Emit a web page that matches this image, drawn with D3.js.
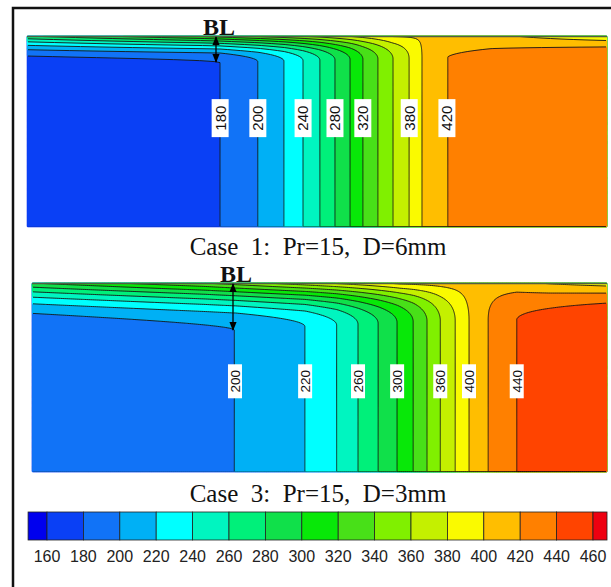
<!DOCTYPE html>
<html>
<head>
<meta charset="utf-8">
<script src="https://cdn.jsdelivr.net/npm/d3@7"></script>
<style>
body { margin: 0; background: #fff; }
svg { display: block; }
</style>
</head>
<body>
<script>
// colour bar: band edges and band colours (one more colour than edges)
const ticks = [160, 180, 200, 220, 240, 260, 280, 300, 320, 340, 360, 380, 400, 420, 440, 460]
const colors = ["#0000ee", "#0a40f5", "#1173f7", "#00b0f5", "#00ffff", "#00f5c0", "#00f07a", "#10e04a",
    "#08e808", "#48e018", "#80f000", "#c4f000", "#fafa00", "#ffbe00", "#ff8000", "#ff4400", "#ee0010"]

// case 1 - temperature in the core (x = fraction of the plot width)
const case1BulkX = [0, 0.333, 0.398, 0.443, 0.476, 0.505, 0.531, 0.557, 0.579, 0.605, 0.631, 0.659, 0.681, 0.724, 1]
const case1BulkT = [170, 180, 200, 220, 240, 260, 280, 300, 320, 340, 360, 380, 400, 420, 432]
// temperature at the top wall and boundary layer thickness (fraction of height)
const case1WallX = [0, 0.3, 0.5, 0.63, 0.8, 1]
const case1WallT = [280, 325, 368, 402, 405, 380]
const case1BLX = [0, 0.33, 0.6, 1]
const case1BL = [0.15, 0.14, 0.12, 0.11]
const case1Labels = [180, 200, 240, 280, 320, 380, 420]

// case 3
const case3BulkX = [0, 0.353, 0.475, 0.530, 0.567, 0.602, 0.635, 0.663, 0.687, 0.710, 0.736, 0.760, 0.793, 0.843, 1]
const case3BulkT = [190, 200, 220, 240, 260, 280, 300, 320, 340, 360, 380, 400, 420, 440, 452]
const case3WallX = [0, 0.3, 0.5, 0.64, 0.78, 0.9, 1]
const case3WallT = [300, 340, 378, 405, 412, 398, 390]
const case3BLX = [0, 0.35, 0.7, 1]
const case3BL = [0.23, 0.25, 0.2, 0.19]
const case3Labels = [200, 220, 260, 300, 360, 400, 440]

const panels = [
    { id: "c1", x0: 27, x1: 607, y0: 36, y1: 227, bulkX: case1BulkX, bulkT: case1BulkT, wallX: case1WallX, wallT: case1WallT,
      blX: case1BLX, bl: case1BL, labels: case1Labels, labelY: 0.43, lw: 17, lh: 38, fs: 15,
      title: "Case  1:  Pr=15,  D=6mm", titleY: 255, blText: 216, blArrow: [37, 62] },
    { id: "c3", x0: 32, x1: 607, y0: 283, y1: 472, bulkX: case3BulkX, bulkT: case3BulkT, wallX: case3WallX, wallT: case3WallT,
      blX: case3BLX, bl: case3BL, labels: case3Labels, labelY: 0.52, lw: 14, lh: 34, fs: 13.5,
      title: "Case  3:  Pr=15,  D=3mm", titleY: 502, blText: 233, blArrow: [284, 330] }
]

const color = d3.scaleThreshold().domain(ticks).range(colors)

const svg = d3.select("body")
    .append("svg")
    .attr("width", 611)
    .attr("height", 587)

const defs = svg.append("defs")
defs.append("marker")
    .attr("id", "head")
    .attr("viewBox", "0 0 10 10")
    .attr("refX", 9).attr("refY", 5)
    .attr("markerWidth", 7).attr("markerHeight", 7)
    .attr("orient", "auto-start-reverse")
    .append("path")
    .attr("d", "M0,1 L10,5 L0,9 Z")
    .attr("fill", "#000")

// outer frame
svg.append("path")
    .attr("d", "M13,590 V8 H615")
    .attr("fill", "none")
    .attr("stroke", "#111")
    .attr("stroke-width", 2.5)

const nx = 290, ny = 190

panels.forEach(p => {
    const xs = d3.scaleLinear().domain([0, 1]).range([p.x0, p.x1])
    const ys = d3.scaleLinear().domain([0, 1]).range([p.y0, p.y1])
    const bulk = d3.scaleLinear().domain(p.bulkX).range(p.bulkT)
    const wall = d3.scaleLinear().domain(p.wallX).range(p.wallT)
    const bl = d3.scaleLinear().domain(p.blX).range(p.bl)
    const where = d3.scaleLinear().domain(p.bulkT).range(p.bulkX)

    const values = new Float64Array(nx * ny)
    for (let j = 0; j < ny; j++) {
        const d = (j + 0.5) / ny
        for (let i = 0; i < nx; i++) {
            const u = (i + 0.5) / nx
            const s = d / bl(u)
            const g = s < 1 ? (1 - s) * (1 - s) : 0
            values[j * nx + i] = bulk(u) + (wall(u) - bulk(u)) * g
        }
    }

    const proj = d3.geoTransform({
        point: function (x, y) { this.stream.point(xs(x / nx), ys(y / ny)) }
    })
    const path = d3.geoPath(proj)

    const bands = d3.contours().size([nx, ny]).smooth(true)
        .thresholds([0].concat(ticks))(values)

    svg.append("g")
        .selectAll("path")
        .data(bands)
        .enter()
        .append("path")
        .attr("d", path)
        .attr("fill", d => color(d.value))
        .attr("stroke", d => color(d.value))
        .attr("stroke-width", 0.3)

    defs.append("clipPath")
        .attr("id", "clip-" + p.id)
        .append("rect")
        .attr("x", p.x0 + 1).attr("y", p.y0 + 0.8)
        .attr("width", p.x1 - p.x0 - 2).attr("height", p.y1 - p.y0 - 1.6)

    svg.append("g")
        .attr("clip-path", "url(#clip-" + p.id + ")")
        .selectAll("path")
        .data(bands.filter(d => d.value > 0))
        .enter()
        .append("path")
        .attr("d", path)
        .attr("fill", "none")
        .attr("stroke", "#151515")
        .attr("stroke-width", 0.9)

    // wall line at the top
    svg.append("line")
        .attr("x1", p.x0).attr("x2", p.x1)
        .attr("y1", p.y0 + 0.5).attr("y2", p.y0 + 0.5)
        .attr("stroke", "#4f5f45")
        .attr("stroke-width", 1.5)

    // contour labels
    const lab = svg.append("g")
        .selectAll("g")
        .data(p.labels)
        .enter()
        .append("g")
        .attr("transform", d => `translate(${xs(where(d))},${ys(p.labelY)}) rotate(-90)`)
    lab.append("rect")
        .attr("x", -p.lh / 2).attr("y", -p.lw / 2)
        .attr("width", p.lh).attr("height", p.lw)
        .attr("fill", "#fff")
    lab.append("text")
        .attr("text-anchor", "middle")
        .attr("dy", "0.36em")
        .attr("font-family", "Liberation Sans, Arial, sans-serif")
        .attr("font-size", p.fs)
        .attr("fill", "#111")
        .text(d => d)

    // titles
    svg.append("text")
        .attr("x", 318)
        .attr("y", p.titleY)
        .attr("text-anchor", "middle")
        .attr("font-family", "Liberation Serif, Times New Roman, serif")
        .attr("font-size", 25)
        .style("white-space", "pre")
        .attr("fill", "#111")
        .text(p.title)

    // boundary layer mark
    svg.append("text")
        .attr("x", p.blText + 3)
        .attr("y", p.blArrow[0] - 2)
        .attr("text-anchor", "middle")
        .attr("font-family", "Liberation Serif, Times New Roman, serif")
        .attr("font-weight", "bold")
        .attr("font-size", 24)
        .attr("fill", "#111")
        .text("BL")
    svg.append("line")
        .attr("x1", p.blText).attr("x2", p.blText)
        .attr("y1", p.blArrow[0]).attr("y2", p.blArrow[1])
        .attr("stroke", "#000")
        .attr("stroke-width", 1.3)
        .attr("marker-start", "url(#head)")
        .attr("marker-end", "url(#head)")
})

// colour bar
const cb = d3.scaleLinear().domain([160, 460]).range([47, 593])
const edges = [149.6].concat(ticks, [467.7])
svg.append("g")
    .selectAll("rect")
    .data(colors)
    .enter()
    .append("rect")
    .attr("x", (d, i) => cb(edges[i]))
    .attr("y", 512)
    .attr("width", (d, i) => cb(edges[i + 1]) - cb(edges[i]))
    .attr("height", 28)
    .attr("fill", d => d)
    .attr("stroke", "#222")
    .attr("stroke-width", 0.8)

svg.append("g")
    .selectAll("text")
    .data(ticks)
    .enter()
    .append("text")
    .attr("x", d => cb(d))
    .attr("y", 562)
    .attr("text-anchor", "middle")
    .attr("font-family", "Liberation Sans, Arial, sans-serif")
    .attr("font-size", 16)
    .attr("fill", "#222")
    .text(d => d)
</script>
</body>
</html>
